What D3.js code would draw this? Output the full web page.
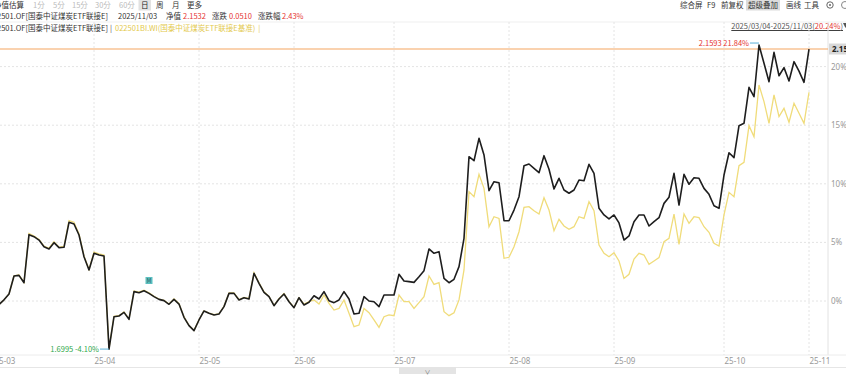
<!DOCTYPE html>
<html>
<head>
<meta charset="utf-8">
<script src="https://cdn.jsdelivr.net/npm/d3@7"></script>
<style>
  body { margin: 0; background: #fff; }
  svg { display: block; font-family: "Noto Sans CJK SC", "Noto Sans", sans-serif; }
</style>
</head>
<body>
<svg width="846" height="377"></svg>
<script>
// month ticks: label + trading-day index where the month starts
var monthLabels = ["25-03", "25-04", "25-05", "25-06", "25-07", "25-08", "25-09", "25-10", "25-11"];
var monthStart = [0, 20, 41, 60, 80, 103, 124, 146, 163];

// fund (black) return since 2025/03/04, %
var fundPct = [
  0, -0.3, 0.1, 0.6, 2.13, 2.19, 1.56, 5.66, 5.49, 5.2,
  4.63, 4.44, 4.98, 4.55, 4.58, 6.71, 6.57, 5.63, 3.78, 2.65,
  4.07, 3.92, 3.84, -4.103, -1.34, -1.28, -0.97, -1.56, 0.8, 0.71,
  0.88, 0.65, 0.37, 0.14, 0.03, -0.28, 0.14, -0.26, -1.39, -2.1,
  -2.53, -1.62, -0.85, -1.05, -1.19, -1.11, -0.48, 0.65, 0.65, 0.09,
  0.28, 0.17, 2.36, 1.51, 0.74, 0.37, -0.4, 0.17, 0.6, -0.06,
  -0.57, 0.28, -0.34, -0.11, 0.45, 0.17, 0.8, 0.03, -0.14, 0.09,
  0.8, 0.17, -1.11, -1.05, 0.37, 0.0, -0.06, -0.48, 0.51, 0.51,
  0.51, 2.28, 1.71, 1.65, 1.59, 2.07, 2.59, 4.44, 4.07, 4.21,
  1.93, 1.56, 1.85, 2.93, 5.35, 12.31, 11.97, 13.88, 12.46, 9.41,
  10.18, 10.09, 6.85, 6.85, 7.76, 8.9, 11.54, 11.69, 11.32, 10.95,
  12.4, 11.24, 9.56, 10.47, 9.47, 9.19, 9.47, 10.32, 10.26, 11.66,
  10.89, 7.91, 7.34, 7.0, 7.34, 6.66, 5.2, 5.55, 6.77, 7.34,
  7.34, 6.4, 6.77, 7.11, 8.33, 8.85, 10.89, 8.19, 10.81, 9.96,
  10.52, 10.47, 9.61, 9.1, 8.13, 7.91, 10.75, 12.65, 12.23, 14.96,
  15.16, 18.23, 17.43, 21.84, 20.28, 18.71, 21.22, 19.22, 19.91, 18.77,
  20.42, 19.62, 18.66, 21.50
];

// benchmark (yellow) return since 2025/03/04, %
var benchPct = [
  0, -0.3, 0.1, 0.6, 2.15, 2.22, 1.58, 5.76, 5.55, 5.25,
  4.68, 4.5, 5.05, 4.6, 4.65, 6.86, 6.72, 5.72, 3.85, 2.7,
  4.17, 4.02, 3.92, -4.05, -1.3, -1.25, -0.93, -1.52, 0.85, 0.75,
  0.92, 0.69, 0.4, 0.17, 0.05, -0.25, 0.17, -0.23, -1.36, -2.08,
  -2.5, -1.6, -0.83, -1.03, -1.17, -1.09, -0.45, 0.7, 0.7, 0.12,
  0.31, 0.2, 2.41, 1.55, 0.78, 0.4, -0.37, 0.2, 0.63, -0.03,
  -0.55, 0.28, -0.26, -0.06, 0.09, -0.26, 0.51, -0.2, -0.77, -0.63,
  0.09, -1.05, -2.19, -2.05, -0.63, -1.0, -1.62, -2.25, -1.34, -1.19,
  -1.25, 0.51, -0.06, -0.06, -0.63, -0.14, 0.37, 2.13, 1.42, 1.56,
  -0.91, -1.25, -1.0, 0.09, 2.65, 9.33, 8.9, 10.81, 9.61, 6.34,
  7.19, 7.05, 3.64, 3.73, 4.63, 5.91, 7.99, 8.05, 7.7, 7.42,
  8.81, 7.76, 6.0, 6.97, 6.4, 6.12, 6.34, 7.19, 7.05, 8.47,
  7.7, 4.78, 4.07, 3.78, 4.12, 3.41, 1.93, 2.28, 3.58, 4.07,
  3.92, 3.13, 3.41, 3.7, 5.06, 5.35, 7.42, 4.84, 7.42, 6.63,
  7.19, 7.11, 6.34, 5.86, 4.92, 4.69, 7.34, 9.27, 8.9, 11.54,
  11.83, 14.96, 14.02, 18.43, 17.01, 15.16, 17.58, 15.73, 16.44, 15.25,
  16.87, 16.02, 15.16, 17.81
];

var yTicks = [0, 5, 10, 15, 20];
var baseNav = 1.77223;

var svg = d3.select("svg");
var plotRight = 828, plotTop = 22, plotBottom = 355;

var xScale = d3.scaleLinear().domain([0, 163]).range([-6, 809]);
var yScale = d3.scaleLinear().domain([0, 20]).range([301, 66.6]);

var axisFont = "'Liberation Sans Narrow', 'Noto Sans', sans-serif";

// header rows
var hdr = svg.append("g").attr("font-size", "7.5px");

// lay out a run of texts left to right with a small gap
function textRun(items, x, y, gap) {
  items.forEach(function (t) {
    var el = hdr.append("text").attr("x", x).attr("y", y).attr("fill", t[1]).text(t[0]);
    x += el.node().getComputedTextLength() + gap;
  });
  return x;
}

hdr.append("text").attr("x", 24).attr("y", 8).attr("text-anchor", "end").attr("fill", "#333").text("净值估算");
var tabs = [["1分", 33, "#bbb"], ["5分", 53, "#bbb"], ["15分", 72, "#bbb"], ["30分", 95, "#bbb"], ["60分", 119, "#bbb"],
            ["日", 141, "#222"], ["周", 156, "#333"], ["月", 172, "#333"], ["更多", 187, "#333"]];
hdr.append("rect").attr("x", 138.5).attr("y", 0).attr("width", 12.5).attr("height", 10.5).attr("fill", "#e2e2e2");
tabs.forEach(function (t) {
  hdr.append("text").attr("x", t[1]).attr("y", 8).attr("fill", t[2]).text(t[0]);
});

hdr.append("text").attr("x", 108).attr("y", 19).attr("text-anchor", "end").attr("fill", "#333").text("022501.OF[国泰中证煤炭ETF联接E]");
textRun([["2025/11/03", "#333"]], 118, 19, 0);
textRun([["净值", "#333"], ["2.1532", "#e5332f"]], 166, 19, 2);
textRun([["涨跌", "#333"], ["0.0510", "#e5332f"]], 212, 19, 2);
textRun([["涨跌幅", "#333"], ["2.43%", "#e5332f"]], 258, 19, 1.5);

hdr.append("text").attr("x", 108).attr("y", 30.5).attr("text-anchor", "end").attr("fill", "#333").text("022501.OF[国泰中证煤炭ETF联接E]");
textRun([["|", "#555"], ["022501BI.WI(国泰中证煤炭ETF联接E基准)", "#e3c94c"], ["|", "#e3c94c"]], 110, 30.5, 3);

// top-right toolbar
var tools = [["综合屏", 680], ["F9", 707], ["前复权", 721], ["超级叠加", 748], ["画线", 786], ["工具", 804]];
hdr.append("rect").attr("x", 746).attr("y", 0).attr("width", 34).attr("height", 10.5).attr("fill", "#dcdcdc");
tools.forEach(function (t) {
  hdr.append("text").attr("x", t[1]).attr("y", 8).attr("fill", "#333").text(t[0]);
});
hdr.append("circle").attr("cx", 830).attr("cy", 5).attr("r", 3.2).attr("fill", "none").attr("stroke", "#666").attr("stroke-width", 1);
hdr.append("circle").attr("cx", 830).attr("cy", 5).attr("r", 1).attr("fill", "#666");
hdr.append("circle").attr("cx", 845).attr("cy", 5).attr("r", 3.5).attr("fill", "none").attr("stroke", "#888").attr("stroke-width", 1);

// range text
var rng = hdr.append("text").attr("x", 843).attr("y", 29).attr("text-anchor", "end").attr("font-size", "7.5px")
  .attr("text-decoration", "underline");
rng.append("tspan").attr("fill", "#555").text("2025/03/04-2025/11/03(");
rng.append("tspan").attr("fill", "#e5332f").text("20.24%");
rng.append("tspan").attr("fill", "#555").text(")");
svg.append("path").attr("d", "M843,23 L848,23 L845.5,28 Z").attr("fill", "#555");

// pane border
svg.append("line").attr("x1", 0).attr("x2", 846).attr("y1", plotTop).attr("y2", plotTop).attr("stroke", "#efefef");
svg.append("line").attr("x1", plotRight).attr("x2", plotRight).attr("y1", plotTop).attr("y2", plotBottom).attr("stroke", "#e2e2e2");
svg.append("line").attr("x1", 0).attr("x2", 846).attr("y1", plotBottom).attr("y2", plotBottom).attr("stroke", "#ececec");

// grid
var g = svg.append("g");
g.selectAll(".hgrid").data(yTicks).enter().append("line")
  .attr("x1", 0).attr("x2", plotRight)
  .attr("y1", function (d) { return yScale(d); }).attr("y2", function (d) { return yScale(d); })
  .attr("stroke", "#e4e4e4").attr("stroke-dasharray", "2,2");
g.selectAll(".vgrid").data(monthStart).enter().append("line")
  .attr("x1", function (d) { return xScale(d); }).attr("x2", function (d) { return xScale(d); })
  .attr("y1", plotTop).attr("y2", plotBottom)
  .attr("stroke", "#e4e4e4").attr("stroke-dasharray", "2,2");

// right axis
svg.append("g").selectAll("text").data(yTicks).enter().append("text")
  .attr("x", 831).attr("y", function (d) { return yScale(d) + 3; })
  .attr("font-size", "8px").attr("font-family", axisFont).attr("fill", "#999")
  .text(function (d) { return d + "%"; });

// month labels
svg.append("g").selectAll("text").data(monthStart).enter().append("text")
  .attr("x", function (d) { return xScale(d) + 0.5; }).attr("y", 364)
  .attr("font-size", "8px").attr("font-family", axisFont).attr("fill", "#999")
  .text(function (d, i) { return monthLabels[i]; });

// scroll bar
svg.append("line").attr("x1", 0).attr("x2", 846).attr("y1", 367.5).attr("y2", 367.5).attr("stroke", "#e6e6e6");
svg.append("rect").attr("x", 399).attr("y", 367).attr("width", 57).attr("height", 7).attr("fill", "#e4e4e4");
svg.append("text").attr("x", 427.5).attr("y", 373.5).attr("text-anchor", "middle").attr("font-size", "6px").attr("fill", "#777").text("∨");

// last price line
var lastPct = fundPct[fundPct.length - 1];
svg.append("line").attr("x1", 0).attr("x2", plotRight)
  .attr("y1", yScale(lastPct)).attr("y2", yScale(lastPct))
  .attr("stroke", "#f5a560").attr("stroke-width", 1.2);
svg.append("rect").attr("x", 829).attr("y", yScale(lastPct) - 5.5).attr("width", 20).attr("height", 11).attr("fill", "#d8d8d8");
svg.append("text").attr("x", 832).attr("y", yScale(lastPct) + 3).attr("font-size", "8px").attr("font-weight", "bold")
  .attr("font-family", axisFont).attr("fill", "#222").text((baseNav * (1 + lastPct / 100)).toFixed(2));

// lines
var line = d3.line()
  .x(function (d, i) { return xScale(i); })
  .y(function (d) { return yScale(d); });

svg.append("path").datum(benchPct).attr("d", line)
  .attr("fill", "none").attr("stroke", "#f0dc7a").attr("stroke-width", 1.3);
svg.append("path").datum(fundPct).attr("d", line)
  .attr("fill", "none").attr("stroke", "#1e1e1e").attr("stroke-width", 1.6).attr("stroke-linejoin", "round");

// max / min annotations
var maxI = d3.maxIndex(fundPct), minI = d3.minIndex(fundPct);
var mx = xScale(maxI), my = yScale(fundPct[maxI]);
svg.append("line").attr("x1", mx - 9).attr("x2", mx).attr("y1", my - 2).attr("y2", my - 2).attr("stroke", "#5ab0d8");
svg.append("text").attr("x", mx - 10).attr("y", my + 0.5).attr("text-anchor", "end")
  .attr("font-size", "7.5px").attr("fill", "#e5332f")
  .text((baseNav * (1 + fundPct[maxI] / 100)).toFixed(4) + " " + fundPct[maxI].toFixed(2) + "%");

var nx = xScale(minI), ny = yScale(fundPct[minI]);
svg.append("line").attr("x1", nx - 9).attr("x2", nx).attr("y1", ny).attr("y2", ny).attr("stroke", "#5ab0d8");
svg.append("text").attr("x", nx - 10).attr("y", ny + 2.5).attr("text-anchor", "end")
  .attr("font-size", "7.5px").attr("fill", "#2ea84a")
  .text((baseNav * (1 + fundPct[minI] / 100)).toFixed(4) + " " + fundPct[minI].toFixed(2) + "%");

// "M" marker
svg.append("rect").attr("x", 145.5).attr("y", 277).attr("width", 7).attr("height", 7).attr("fill", "#5cc0c0");
svg.append("text").attr("x", 149).attr("y", 282.8).attr("text-anchor", "middle").attr("font-size", "5.5px")
  .attr("fill", "#2a5a5a").text("M");
</script>
</body>
</html>
